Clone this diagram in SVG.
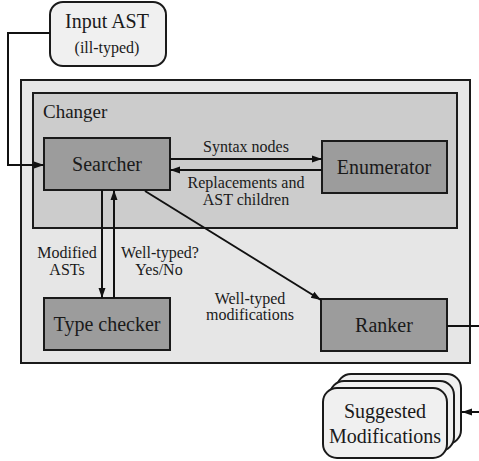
<svg xmlns="http://www.w3.org/2000/svg" width="479" height="461" viewBox="0 0 479 461" font-family="'Liberation Serif', 'Times New Roman', serif">
<style>
text{fill:#1a1a1a;text-anchor:middle}
.n{fill:#9c9c9c;stroke:#1a1a1a;stroke-width:2}
.big{font-size:20px}
.lbl{font-size:16px}
.c{fill:none;stroke:#111;stroke-width:2}
.s{fill:#f0f0f0;stroke:#1a1a1a;stroke-width:2}
</style>
<defs>
<marker id="a" viewBox="0 0 10 10" refX="10" refY="5" markerWidth="10" markerHeight="10" markerUnits="userSpaceOnUse" orient="auto">
<path d="M0,1.5 L10,5 L0,8.5 Z" fill="#111"/>
</marker>
</defs>
<g id="outer"><rect x="21" y="80" width="449" height="283" fill="#e6e6e6" stroke="#1a1a1a" stroke-width="2"/></g>
<g id="changer"><rect x="33" y="93" width="424" height="135" fill="#cccccc" stroke="#1a1a1a" stroke-width="2"/>
<text x="43" y="118" style="text-anchor:start;font-size:19px">Changer</text></g>
<g id="input"><rect class="s" x="50" y="2" width="116" height="64" rx="13"/>
<text class="big" x="107" y="28">Input AST</text>
<text class="lbl" x="107" y="53">(ill-typed)</text></g>
<g id="searcher"><rect class="n" x="44" y="138" width="126" height="52"/>
<text class="big" x="107" y="171">Searcher</text></g>
<g id="enumerator"><rect class="n" x="322" y="141" width="125" height="52"/>
<text class="big" x="384" y="174">Enumerator</text></g>
<g id="typechecker"><rect class="n" x="44" y="298" width="126" height="52"/>
<text class="big" x="107" y="331">Type checker</text></g>
<g id="ranker"><rect class="n" x="321" y="299" width="126" height="52"/>
<text class="big" x="384" y="332">Ranker</text></g>
<g id="suggested">
<rect class="s" x="337" y="374" width="124" height="70" rx="14"/>
<rect class="s" x="330" y="381" width="124" height="70" rx="14"/>
<rect class="s" x="323" y="388" width="124" height="70" rx="14"/>
<text class="big" x="385" y="418">Suggested</text>
<text class="big" x="385" y="443">Modifications</text></g>
<g id="connectors">
<path class="c" d="M50,33 H8 V165 H44" marker-end="url(#a)"/>
<path class="c" d="M170,159 H322" marker-end="url(#a)"/>
<path class="c" d="M322,170 H170" marker-end="url(#a)"/>
<path class="c" d="M102,190 V298" marker-end="url(#a)"/>
<path class="c" d="M114,298 V190" marker-end="url(#a)"/>
<path class="c" d="M145,191 L321,300" marker-end="url(#a)"/>
<path class="c" d="M447,326 H490 V412 H462" marker-end="url(#a)"/>
<text class="lbl" x="246" y="152">Syntax nodes</text>
<text class="lbl" x="246" y="188">Replacements and</text>
<text class="lbl" x="246" y="205">AST children</text>
<text class="lbl" x="67" y="258">Modified</text>
<text class="lbl" x="67" y="275">ASTs</text>
<text class="lbl" x="160" y="258">Well-typed?</text>
<text class="lbl" x="159" y="275">Yes/No</text>
<text class="lbl" x="250" y="304">Well-typed</text>
<text class="lbl" x="250" y="320">modifications</text>
</g>
</svg>
